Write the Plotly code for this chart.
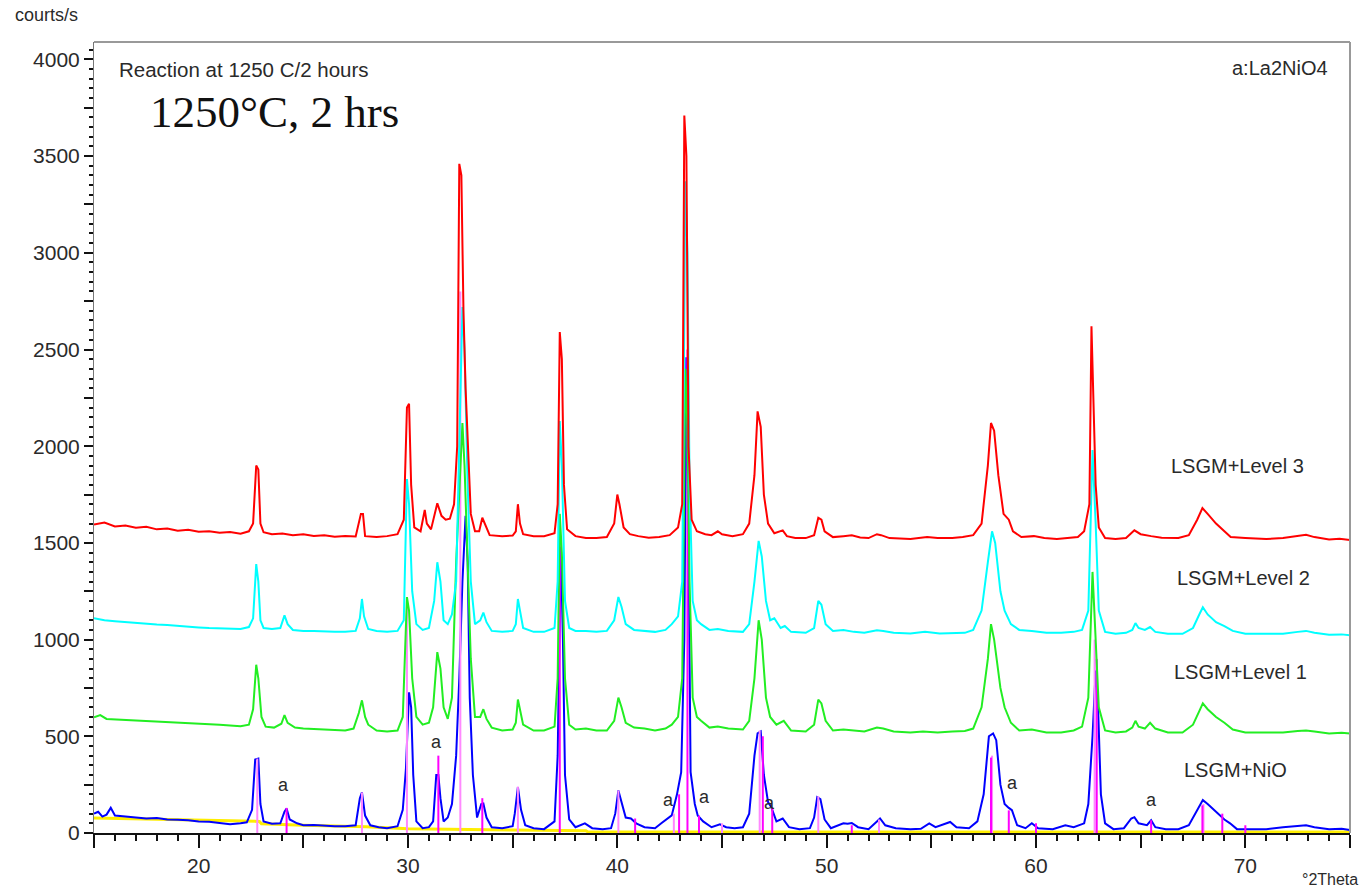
import plotly.graph_objects as go

# ---- 2-theta / intensity vertices for each pattern (counts/s) ----
red_x = [15.0, 15.5, 16.0, 16.5, 17.0, 17.5, 18.0, 18.5, 19.0, 19.5, 20.0, 20.5, 21.0, 21.5, 22.0, 22.4, 22.6, 22.75, 22.85, 22.95,
         23.1, 23.5, 24.0, 24.5, 25.0, 25.5, 26.0, 26.5, 27.0, 27.5, 27.75, 27.85, 27.95, 28.5, 29.0, 29.5, 29.8, 29.95, 30.05, 30.15,
         30.3, 30.6, 30.8, 30.9, 31.1, 31.4, 31.6, 31.8, 32.0, 32.2, 32.35, 32.45, 32.55, 32.65, 32.75, 32.9, 33.0, 33.2, 33.4, 33.55,
         33.7, 33.9, 34.5, 35.0, 35.15, 35.25, 35.35, 35.5, 36.0, 36.5, 37.0, 37.15, 37.25, 37.35, 37.45, 37.6, 38.0, 38.5, 39.0, 39.5,
         39.85, 40.0, 40.1, 40.3, 40.6, 41.0, 41.5, 42.0, 42.5, 42.9, 43.1, 43.2, 43.3, 43.4, 43.55, 43.8, 44.2, 44.5, 44.8, 45.0,
         45.5, 46.0, 46.3, 46.55, 46.7, 46.85, 47.0, 47.2, 47.5, 47.9, 48.1, 48.5, 49.0, 49.4, 49.6, 49.75, 49.9, 50.3, 50.8, 51.2,
         51.6, 52.0, 52.4, 52.6, 53.0, 54.0, 54.8, 55.3, 56.0, 56.5, 57.0, 57.4, 57.7, 57.85, 58.0, 58.2, 58.45, 58.7, 58.9, 59.3,
         59.9, 60.4, 61.0, 61.5, 62.0, 62.3, 62.55, 62.65, 62.75, 62.85, 63.0, 63.3, 63.8, 64.3, 64.7, 65.0, 65.5, 66.0, 66.8, 67.3,
         67.7, 67.95, 68.2, 68.6, 69.0, 69.3, 70.0, 71.0, 71.8, 72.5, 72.9, 73.3, 74.0, 74.5, 75.0]
red_y = [1595, 1605, 1585, 1590, 1578, 1584, 1570, 1575, 1563, 1568, 1558, 1560, 1552, 1556, 1548, 1560, 1600, 1900, 1880, 1600,
         1555, 1545, 1548, 1540, 1545, 1536, 1540, 1532, 1536, 1533, 1650, 1650, 1535, 1530, 1535, 1545, 1620, 2200, 2220, 1800,
         1580, 1560, 1670, 1600, 1570, 1705, 1640, 1620, 1625, 1700, 2000, 3460, 3400, 2700, 2300, 1900, 1650, 1560, 1560, 1630,
         1590, 1540, 1535, 1538, 1560, 1700, 1600, 1545, 1535, 1535, 1550, 1700, 2590, 2450, 1800, 1570, 1535, 1525, 1525, 1530,
         1600, 1750, 1700, 1580, 1545, 1535, 1527, 1530, 1540, 1580, 1700, 3710, 3500, 2000, 1620, 1560, 1545, 1540, 1560, 1545,
         1535, 1545, 1600, 1850, 2180, 2100, 1750, 1600, 1550, 1565, 1535, 1525, 1525, 1540, 1630, 1620, 1560, 1530, 1535, 1540,
         1528, 1525, 1545, 1540, 1525, 1520, 1530, 1525, 1525, 1530, 1540, 1600, 1900, 2120, 2080, 1850, 1650, 1620, 1560, 1530,
         1535, 1525, 1520, 1525, 1530, 1560, 1700, 2620, 2250, 1800, 1580, 1525, 1520, 1525, 1565, 1545, 1535, 1527, 1525, 1540,
         1620, 1680, 1650, 1600, 1560, 1530, 1525, 1520, 1525, 1535, 1542, 1530, 1518, 1522, 1515]

cyan_x = [15.0, 15.5, 16.0, 16.5, 17.0, 17.5, 18.0, 18.5, 19.0, 19.5, 20.0, 20.5, 21.0, 21.5, 22.0, 22.4, 22.6, 22.75, 22.85, 22.95,
          23.1, 23.5, 23.9, 24.1, 24.25, 24.5, 25.0, 25.5, 26.0, 26.5, 27.0, 27.5, 27.7, 27.8, 27.9, 28.1, 28.5, 29.0, 29.5, 29.8,
          29.95, 30.05, 30.2, 30.4, 30.7, 31.0, 31.25, 31.4, 31.55, 31.7, 31.9, 32.1, 32.3, 32.45, 32.6, 32.7, 32.85, 33.0, 33.2, 33.45,
          33.6, 33.75, 34.0, 34.5, 35.0, 35.15, 35.25, 35.35, 35.5, 36.0, 36.5, 37.0, 37.15, 37.25, 37.35, 37.5, 37.7, 38.0, 38.5, 39.0,
          39.5, 39.85, 40.05, 40.2, 40.4, 40.8, 41.3, 41.8, 42.3, 42.6, 42.9, 43.1, 43.25, 43.35, 43.45, 43.6, 43.8, 44.0, 44.4, 44.8,
          45.3, 46.0, 46.3, 46.55, 46.75, 46.9, 47.1, 47.3, 47.5, 47.8, 48.0, 48.3, 49.0, 49.4, 49.6, 49.75, 49.95, 50.3, 50.8, 51.3,
          51.8, 52.4, 52.7, 53.2, 54.0, 54.7, 55.4, 56.0, 56.6, 57.0, 57.4, 57.7, 57.9, 58.05, 58.3, 58.5, 58.8, 59.2, 59.8, 60.5,
          61.2, 61.8, 62.2, 62.5, 62.7, 62.85, 63.0, 63.3, 63.8, 64.3, 64.6, 64.75, 64.9, 65.2, 65.45, 65.7, 66.3, 67.0, 67.5, 67.8,
          67.97, 68.2, 68.6, 69.0, 69.4, 70.0, 71.0, 71.8, 72.5, 72.9, 73.3, 74.0, 74.6, 75.0]
cyan_y = [1110, 1100, 1095, 1090, 1085, 1082, 1078, 1075, 1070, 1068, 1063, 1060, 1058, 1055, 1055, 1065, 1110, 1390, 1300, 1100,
          1060, 1055, 1060, 1125, 1080, 1050, 1045, 1045, 1042, 1040, 1040, 1045, 1110, 1210, 1120, 1055, 1045, 1040, 1045, 1100,
          1830, 1700, 1250, 1080, 1050, 1060, 1200, 1400, 1300, 1100, 1080, 1130, 1300, 2000, 2720, 2500, 1800, 1300, 1080, 1100,
          1140, 1090, 1045, 1040, 1045, 1080, 1210, 1150, 1060, 1040, 1040, 1060, 1300, 2130, 1900, 1200, 1060, 1045, 1045, 1040,
          1045, 1100, 1220, 1170, 1080, 1050, 1045, 1040, 1050, 1080, 1120, 1300, 3370, 3000, 1800, 1200, 1100, 1080, 1050, 1055,
          1045, 1040, 1080, 1300, 1510, 1430, 1200, 1100, 1110, 1060, 1070, 1040, 1035, 1060, 1200, 1180, 1080, 1045, 1050, 1040,
          1035, 1048, 1045, 1035, 1032, 1040, 1032, 1035, 1035, 1050, 1150, 1400, 1560, 1500, 1250, 1150, 1080, 1050, 1045, 1035,
          1035, 1040, 1050, 1150, 1980, 1600, 1150, 1040, 1030, 1035, 1050, 1085, 1060, 1050, 1065, 1040, 1030, 1030, 1060, 1130,
          1167, 1130, 1090, 1070, 1045, 1030, 1028, 1030, 1040, 1045, 1035, 1025, 1027, 1022]

green_x = [15.0, 15.3, 15.6, 16.0, 16.5, 17.0, 17.5, 18.0, 18.5, 19.0, 19.5, 20.0, 20.5, 21.0, 21.5, 22.0, 22.4, 22.6, 22.75, 22.85,
           23.0, 23.2, 23.6, 23.95, 24.1, 24.25, 24.6, 25.0, 25.5, 26.0, 26.5, 27.0, 27.4, 27.65, 27.8, 27.95, 28.1, 28.5, 29.0, 29.5,
           29.75, 29.95, 30.05, 30.2, 30.4, 30.7, 31.0, 31.2, 31.4, 31.55, 31.7, 31.9, 32.1, 32.3, 32.45, 32.6, 32.7, 32.85, 33.0, 33.2,
           33.45, 33.6, 33.75, 34.0, 34.5, 35.0, 35.15, 35.25, 35.35, 35.5, 36.0, 36.5, 37.0, 37.15, 37.25, 37.35, 37.5, 37.7, 38.0, 38.5,
           39.0, 39.5, 39.85, 40.05, 40.2, 40.4, 40.8, 41.3, 41.8, 42.3, 42.6, 42.9, 43.1, 43.25, 43.35, 43.45, 43.6, 43.8, 44.0, 44.4,
           44.8, 45.3, 46.0, 46.3, 46.55, 46.75, 46.9, 47.1, 47.3, 47.6, 47.95, 48.3, 49.0, 49.4, 49.6, 49.75, 49.95, 50.3, 50.8, 51.3,
           51.8, 52.4, 52.7, 53.2, 54.0, 54.6, 55.3, 56.0, 56.6, 57.0, 57.4, 57.7, 57.85, 58.0, 58.3, 58.5, 58.8, 59.2, 59.8, 60.5,
           61.2, 61.8, 62.2, 62.5, 62.7, 62.85, 63.0, 63.3, 63.8, 64.3, 64.6, 64.75, 64.9, 65.2, 65.45, 65.7, 66.3, 67.0, 67.5, 67.8,
           67.97, 68.2, 68.6, 69.0, 69.4, 70.0, 71.0, 71.8, 72.5, 72.9, 73.3, 74.0, 74.6, 75.0]
green_y = [598, 610, 590, 588, 585, 580, 578, 576, 574, 572, 570, 568, 565, 560, 556, 552, 560, 640, 870, 800,
           600, 550, 545, 565, 609, 570, 545, 540, 538, 535, 533, 530, 540, 620, 686, 600, 560, 530, 525, 530,
           600, 1220, 1150, 800, 600, 560, 570, 650, 935, 850, 650, 590, 700, 1400, 1760, 2120, 1900, 1400, 900, 600,
           600, 640, 590, 545, 530, 535, 570, 690, 640, 560, 530, 530, 550, 800, 1650, 1450, 800, 560, 535, 540,
           530, 530, 580, 700, 650, 570, 545, 540, 530, 540, 560, 600, 800, 2400, 2100, 1300, 700, 600, 580, 545,
           550, 540, 535, 580, 800, 1100, 1000, 700, 600, 560, 580, 530, 525, 560, 690, 670, 580, 530, 535, 530,
           525, 545, 540, 525, 520, 525, 520, 525, 528, 540, 650, 900, 1080, 1000, 750, 650, 570, 530, 535, 520,
           520, 530, 550, 700, 1350, 1000, 650, 530, 520, 525, 545, 580, 550, 540, 570, 540, 520, 520, 560, 630,
           670, 640, 600, 570, 535, 520, 518, 520, 528, 530, 525, 515, 518, 515]

blue_x = [15.0, 15.2, 15.4, 15.6, 15.8, 16.0, 16.5, 17.0, 17.5, 18.0, 18.5, 19.0, 19.5, 20.0, 20.5, 21.0, 21.5, 22.0, 22.3, 22.55,
          22.7, 22.85, 22.95, 23.1, 23.5, 23.9, 24.1, 24.2, 24.35, 24.7, 25.0, 25.5, 26.0, 26.5, 27.0, 27.5, 27.7, 27.8, 27.95, 28.2,
          28.6, 29.0, 29.5, 29.75, 29.9, 30.05, 30.15, 30.25, 30.4, 30.7, 31.0, 31.2, 31.35, 31.45, 31.55, 31.7, 31.9, 32.1, 32.3, 32.45,
          32.6, 32.75, 32.85, 32.95, 33.1, 33.3, 33.5, 33.6, 33.75, 34.0, 34.5, 35.0, 35.1, 35.25, 35.4, 35.6, 36.0, 36.5, 37.0, 37.15,
          37.3, 37.4, 37.5, 37.7, 38.0, 38.45, 38.8, 39.3, 39.7, 39.9, 40.05, 40.2, 40.4, 40.65, 40.9, 41.3, 41.8, 42.1, 42.3, 42.6,
          42.85, 43.05, 43.2, 43.3, 43.4, 43.5, 43.7, 43.84, 44.1, 44.5, 44.9, 45.2, 45.6, 46.0, 46.3, 46.55, 46.7, 46.85, 47.0, 47.2,
          47.35, 47.6, 47.9, 48.2, 48.7, 49.2, 49.4, 49.55, 49.7, 49.9, 50.2, 50.8, 51.0, 51.2, 51.5, 52.0, 52.4, 52.55, 52.8, 53.3,
          54.0, 54.5, 54.9, 55.2, 55.9, 56.2, 56.8, 57.2, 57.5, 57.75, 57.95, 58.1, 58.3, 58.5, 58.7, 58.85, 59.1, 59.5, 59.8, 60.1,
          60.8, 61.4, 61.8, 62.3, 62.5, 62.7, 62.85, 62.95, 63.1, 63.3, 63.7, 64.2, 64.55, 64.7, 64.9, 65.3, 65.5, 65.7, 66.2, 66.8,
          67.3, 67.7, 67.97, 68.2, 68.5, 68.8, 69.0, 69.27, 69.6, 70.3, 71.0, 71.8, 72.5, 72.9, 73.3, 74.0, 74.6, 75.0]
blue_y = [100, 110, 85, 95, 130, 90, 85, 80, 75, 78, 70, 68, 66, 60, 58, 52, 45, 50, 55, 120,
          380, 385, 150, 60, 48, 50, 110, 127, 70, 50, 40, 42, 38, 35, 35, 40, 180, 210, 90, 40,
          30, 25, 35, 120, 330, 727, 650, 300, 60, 25, 30, 60, 300, 300, 180, 60, 80, 150, 400, 800,
          1300, 1640, 1400, 700, 300, 80, 150, 153, 80, 30, 25, 35, 100, 237, 120, 40, 25, 20, 60, 400,
          1480, 1000, 300, 70, 30, 50, 25, 20, 25, 100, 220, 160, 80, 75, 50, 30, 25, 50, 66, 91,
          200, 315, 1000, 2460, 1500, 315, 150, 91, 60, 30, 45, 30, 25, 30, 100, 400, 515, 525, 300, 160,
          135, 60, 75, 30, 20, 25, 80, 185, 175, 70, 25, 50, 48, 52, 30, 20, 60, 75, 40, 25,
          20, 22, 50, 30, 57, 30, 25, 60, 200, 500, 515, 480, 250, 150, 130, 118, 40, 25, 50, 25,
          20, 40, 30, 50, 150, 500, 840, 700, 200, 50, 20, 25, 75, 82, 50, 40, 66, 30, 20, 20,
          40, 120, 170, 150, 120, 91, 70, 50, 20, 20, 20, 30, 35, 40, 30, 20, 22, 15]

# baseline (yellow) curve
base_x = [15.0, 20.0, 22.9, 23.0, 25.0, 28.0, 30.0, 35.0, 38.5, 38.6, 75.0]
base_y = [78, 68, 60, 48, 40, 32, 22, 15, 12, 5, 5]

# reference line positions / intensities
ref_lsgm_pos = [22.8, 27.8, 29.95, 32.5, 35.25, 40.05, 42.7, 45.0, 46.8, 49.6, 52.5, 57.9, 62.8, 68.0]
ref_lsgm_int = [385, 210, 1200, 2800, 240, 220, 100, 50, 530, 190, 70, 400, 1000, 150]
ref_la2nio4_pos = [24.2, 31.45, 33.55, 37.25, 40.85, 42.95, 43.35, 43.9, 46.95, 47.4, 51.2, 57.85, 58.7, 60.0, 62.9,
                   65.5, 67.95, 68.9, 70.0]
ref_la2nio4_int = [130, 400, 180, 1500, 75, 200, 2500, 90, 500, 130, 40, 390, 117, 50, 900, 66, 143, 100, 40]

# text labels
series_labels = ["LSGM+Level 3", "LSGM+Level 2", "LSGM+Level 1", "LSGM+NiO"]
series_label_x = [69.64, 69.9, 69.75, 69.55]
series_label_y = [1896, 1317, 831, 324]
mark_x = [24.03, 31.38, 42.46, 44.18, 47.28, 58.89, 65.54]
mark_y = [246, 469, 169, 184, 153, 256, 169]

x_ticks = [15, 20, 25, 30, 35, 40, 45, 50, 55, 60, 65, 70, 75]
y_ticks = list(range(0, 4001, 250))

TXT = "#2a2a2a"
FONT = "Liberation Sans, Arial, sans-serif"


def sticks(pos, inten):
    xs, ys = [], []
    for p, h in zip(pos, inten):
        xs += [p, p, None]
        ys += [0, h, None]
    return xs, ys


fig = go.Figure()

fig.add_trace(go.Scatter(x=base_x, y=base_y, mode="lines",
                         line=dict(color="#ffee00", width=3), hoverinfo="skip"))
fig.add_trace(go.Scatter(x=blue_x, y=blue_y, mode="lines",
                         line=dict(color="#0000ff", width=2), name="LSGM+NiO"))
sx, sy = sticks(ref_lsgm_pos, ref_lsgm_int)
fig.add_trace(go.Scatter(x=sx, y=sy, mode="lines",
                         line=dict(color="#ff88ff", width=2), hoverinfo="skip"))
sx, sy = sticks(ref_la2nio4_pos, ref_la2nio4_int)
fig.add_trace(go.Scatter(x=sx, y=sy, mode="lines",
                         line=dict(color="#ff00ff", width=2), hoverinfo="skip"))
fig.add_trace(go.Scatter(x=green_x, y=green_y, mode="lines",
                         line=dict(color="#22ee22", width=2), name="LSGM+Level 1"))
fig.add_trace(go.Scatter(x=cyan_x, y=cyan_y, mode="lines",
                         line=dict(color="#00ffff", width=2), name="LSGM+Level 2"))
fig.add_trace(go.Scatter(x=red_x, y=red_y, mode="lines",
                         line=dict(color="#ff0000", width=2), name="LSGM+Level 3"))

ann = []
for t, x, y in zip(series_labels, series_label_x, series_label_y):
    ann.append(dict(x=x, y=y, text=t, showarrow=False, xanchor="center", yanchor="middle",
                    font=dict(family=FONT, size=20, color=TXT)))
for x, y in zip(mark_x, mark_y):
    ann.append(dict(x=x, y=y, text="a", showarrow=False, xanchor="center", yanchor="middle",
                    font=dict(family=FONT, size=18, color=TXT)))
ann.append(dict(x=16.08, y=3946, text="Reaction at 1250 C/2 hours", showarrow=False,
                xanchor="left", yanchor="middle", font=dict(family=FONT, size=20.5, color=TXT)))
ann.append(dict(x=17.57, y=3728, text="1250°C, 2 hrs", showarrow=False,
                xanchor="left", yanchor="middle",
                font=dict(family="Liberation Serif, Times New Roman, serif", size=45, color="#111")))
ann.append(dict(x=74.04, y=3956, text="a:La2NiO4", showarrow=False,
                xanchor="right", yanchor="middle", font=dict(family=FONT, size=20, color=TXT)))
ann.append(dict(x=-0.0645, y=1.034, xref="paper", yref="paper", text="courts/s", showarrow=False,
                xanchor="left", yanchor="middle", font=dict(family=FONT, size=18, color=TXT)))
ann.append(dict(x=1.008, y=-0.059, xref="paper", yref="paper", text="°2Theta", showarrow=False,
                xanchor="right", yanchor="middle", font=dict(family=FONT, size=16, color=TXT)))

fig.update_layout(
    width=1361, height=892,
    margin=dict(l=94, r=11, t=42, b=59),
    paper_bgcolor="white", plot_bgcolor="white",
    showlegend=False,
    annotations=ann,
    xaxis=dict(range=[15, 75], tickmode="array", tickvals=x_ticks,
               ticktext=["" if v % 10 else str(v) for v in x_ticks],
               ticks="outside", ticklen=13, tickwidth=2, tickcolor="#111",
               minor=dict(dtick=1, ticklen=6, tickwidth=1.5, tickcolor="#111", ticks="outside"),
               showline=True, linecolor="#111", linewidth=2, mirror=False,
               showgrid=False, zeroline=False,
               tickfont=dict(family=FONT, size=21, color=TXT)),
    yaxis=dict(range=[0, 4090], tickmode="array", tickvals=y_ticks,
               ticktext=["" if v % 500 else str(v) for v in y_ticks],
               ticks="outside", ticklen=9, tickwidth=2, tickcolor="#111",
               minor=dict(dtick=50, ticklen=4, tickwidth=1.5, tickcolor="#111", ticks="outside"),
               showline=True, linecolor="#777", linewidth=1,
               showgrid=False, zeroline=False,
               tickfont=dict(family=FONT, size=21, color=TXT)),
)

# grey frame on top and right
fig.add_shape(type="line", xref="paper", yref="paper", x0=0, x1=1, y0=1, y1=1,
              line=dict(color="#999", width=2))
fig.add_shape(type="line", xref="paper", yref="paper", x0=1, x1=1, y0=0, y1=1,
              line=dict(color="#999", width=2))

fig.write_html("out.html")
